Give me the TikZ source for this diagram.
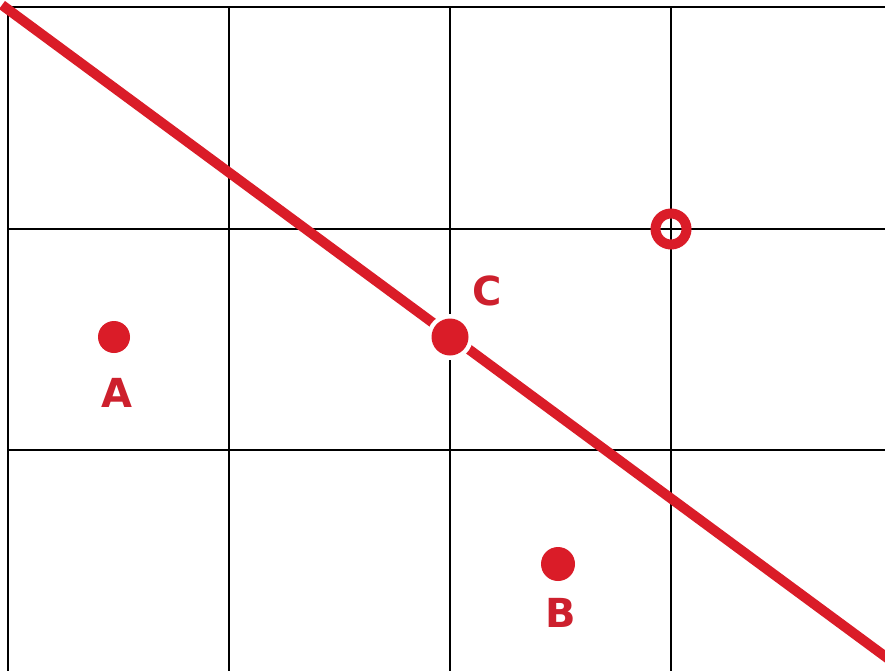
\documentclass[tikz,border=0pt]{standalone}
\usepackage{fontspec}
\setmainfont{DejaVu Sans}
\definecolor{pred}{RGB}{218,28,40}
\definecolor{tred}{RGB}{205,32,45}
\begin{document}
\begin{tikzpicture}[x=1pt,y=-1pt,
  gridline/.style={draw=black,line width=2.5pt},
  redline/.style={draw=pred,line width=10pt},
  dot/.style={circle,fill=pred,inner sep=0pt,minimum size=32pt},
  ring/.style={circle,draw=pred,line width=10pt,inner sep=0pt,minimum size=31pt},
  lab/.style={text=tred,font=\bfseries\fontsize{40}{40}\selectfont,inner sep=0pt}]
\useasboundingbox (0,0) rectangle (885,670);
\clip (0,0) rectangle (885,670);
\fill[white] (0,0) rectangle (885,670);
% grid
\foreach \x in {8,229,450,671} \draw[gridline] (\x,7) -- (\x,672);
\foreach \y in {7,229,450} \draw[gridline] (8,\y) -- (887,\y);
% line
\coordinate (L1) at (2,5);
\coordinate (L2) at (890,660);
\draw[redline] (L1) -- (L2);
% points
\fill[white] (450,337) circle (23);
\node[dot,minimum size=37pt] (C) at (450,337) {};
\node[dot] (A) at (114,337) {};
\node[dot,minimum size=34pt] (B) at (558,564) {};
\node[ring] (R) at (671,229) {};
% labels
\node[lab] (lA) at (117,393) {A};
\node[lab] (lB) at (561,613) {B};
\node[lab] (lC) at (487,291) {C};
\end{tikzpicture}
\end{document}
